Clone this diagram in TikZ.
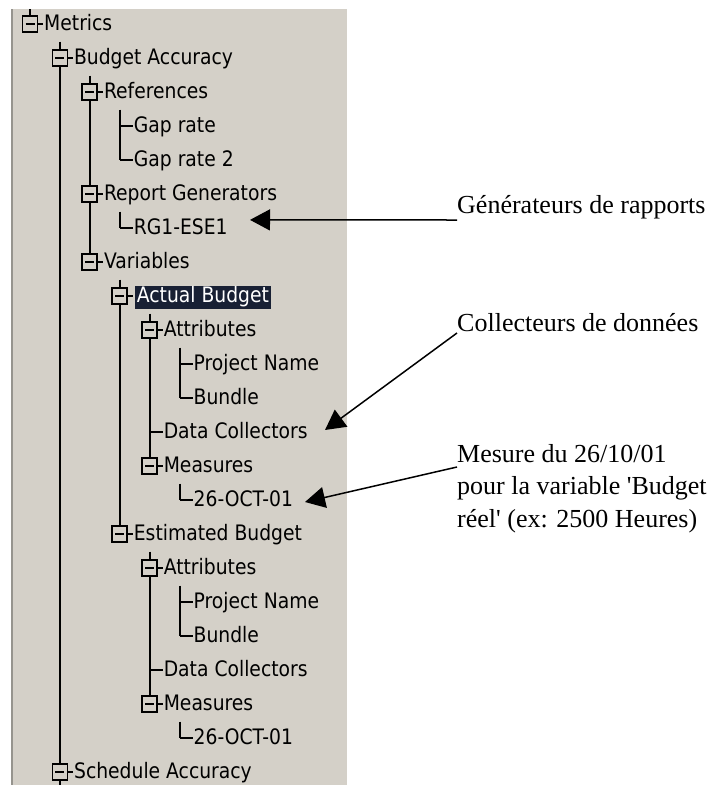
\documentclass[tikz,border=0pt]{standalone}
\usepackage{fontspec}
\usetikzlibrary{arrows.meta,calc}
\newfontfamily\treefont[FakeStretch=0.88]{DejaVu Sans}
\newfontfamily\notefont{Liberation Serif}
\definecolor{panel}{RGB}{212,208,200}
\definecolor{panelEdge}{RGB}{150,148,142}
\definecolor{selbg}{RGB}{24,32,52}

\begin{document}
\begin{tikzpicture}[x=1pt,y=-1pt,
  treeline/.style={line width=2pt, black},
  expander/.style={draw=black, line width=1.8pt, fill=panel, minimum width=15pt, minimum height=16pt, inner sep=0pt, rectangle},
  itemtext/.style={anchor=base west, inner sep=0pt, font=\treefont\fontsize{21.3}{21}\selectfont},
  annot/.style={anchor=base west, inner sep=0pt, font=\notefont\fontsize{26}{26}\selectfont},
  callout/.style={line width=1.5pt, -{Triangle[length=20pt,width=21pt]}}
]
\useasboundingbox (0,0) rectangle (717,785);
\fill[white] (0,0) rectangle (717,785);

% tree view panel
\fill[panel] (13,9) rectangle (347,785);
\draw[panelEdge, line width=2pt] (12,9) -- (12,785);

% vertical sibling lines: level / parent row / last row
\foreach \lv/\a/\b in {2/1/7, 3/2/4, 3/5/6, 3/7/15, 4/8/13, 5/9/11, 5/13/14, 4/15/20, 5/16/18, 5/20/21}
  \draw[treeline] ({30+29.9*\lv}, {23.5+34*\a+18}) -- ({30+29.9*\lv}, {23.5+34*\b});
\draw[treeline] (59.9, 41.5) -- (59.9, 785);
\draw[treeline] (30, 9) -- (30, 23.5);

% horizontal stubs for every row
\foreach \r/\lv in {0/0,1/1,2/2,3/3,4/3,5/2,6/3,7/2,8/3,9/4,10/5,11/5,12/4,13/4,14/5,15/3,16/4,17/5,18/5,19/4,20/4,21/5,22/1}
  \draw[treeline] ({30+29.9*\lv}, {23.5+34*\r}) -- ({30+29.9*\lv+13}, {23.5+34*\r});

% expander boxes with minus signs
\foreach \r/\lv in {0/0,1/1,2/2,5/2,7/2,8/3,9/4,13/4,15/3,16/4,20/4,22/1} {
  \node[expander] (box\r) at ({30+29.9*\lv}, {23.5+34*\r+0.5}) {};
  \draw[line width=1.8pt] ($(box\r.center)+(-4.5,0)$) -- ($(box\r.center)+(4.5,0)$);
}

% item texts
\foreach \r/\lv/\t in {0/0/Metrics, 1/1/Budget Accuracy, 2/2/References, 3/3/Gap rate,
    4/3/Gap rate 2, 5/2/Report Generators, 6/3/RG1-ESE1, 7/2/Variables,
    9/4/Attributes, 10/5/Project Name, 11/5/Bundle, 12/4/Data Collectors,
    13/4/Measures, 14/5/26-OCT-01, 15/3/Estimated Budget, 16/4/Attributes,
    17/5/Project Name, 18/5/Bundle, 19/4/Data Collectors, 20/4/Measures,
    21/5/26-OCT-01, 22/1/Schedule Accuracy}
  \node[itemtext] (n\r) at ({30+29.9*\lv+14}, {23.5+34*\r+7}) {\t};

% selected item
\node[itemtext, fill=selbg, text=white, inner xsep=2pt, inner ysep=2pt,
      text height=15pt, text depth=4pt] (n8) at ({30+29.9*3+15}, {23.5+34*8+7}) {Actual Budget};

% annotations
\node[annot] (gen)  at (457,213) {Générateurs de rapports};
\node[annot] (coll) at (457,331) {Collecteurs de données};
\node[annot] (mes1) at (457,462) {Mesure du 26/10/01};
\node[annot] (mes2) at (457,494) {pour la variable \textquotesingle Budget};
\node[annot] (mes3) at (457,527) {réel\textquotesingle\ (ex: 2500 Heures)};

% callout arrows
\draw[callout] ($(gen.base west)+(0,7)$)  -- ($(n6.base west)+(116.3,-14.6)$);
\draw[callout] ($(coll.base west)+(0,2)$) -- ($(n12.base west)+(161.4,-8.5)$);
\draw[callout] ($(mes1.base west)+(0,5)$) -- ($(n14.base west)+(111.5,-4.5)$);
\end{tikzpicture}
\end{document}
